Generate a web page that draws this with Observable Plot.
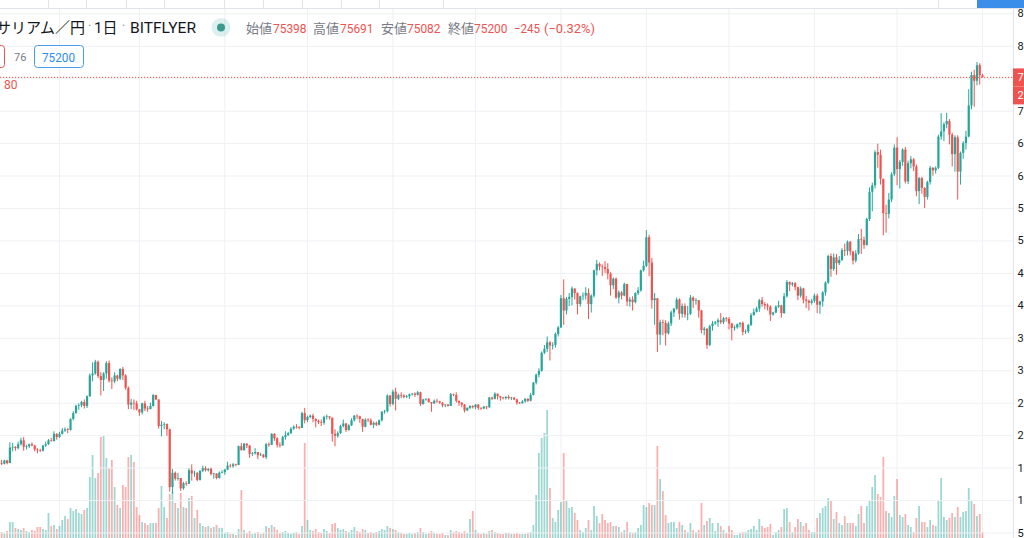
<!DOCTYPE html>
<html>
<head>
<meta charset="utf-8">
<script src="https://cdn.jsdelivr.net/npm/d3@7"></script>
<script src="https://cdn.jsdelivr.net/npm/@observablehq/plot@0.6"></script>
<style>
html, body { margin: 0; padding: 0; background: #ffffff; }
#chart { position: relative; width: 1024px; height: 538px; overflow: hidden; background: #ffffff;
  font-family: Roboto, "Noto Sans CJK JP", sans-serif; }
#chart > svg, #chart > .layer { position: absolute; left: 0; top: 0; }
</style>
</head>
<body>
<div id="chart"></div>
<script>
// ---------- data (ETH/JPY, bitFlyer, daily, 2020-01-11 .. 2021-01-01), prices in thousand JPY ----------
const startDay = "2020-01-11";
const firstOpenK = 15.7;
const closeK = [
  // Jan
  15.6,16.1,15.7,18.1,18.2,18.0,18.6,19.2,18.2,18.3,18.6,18.4,17.8,17.7,17.6,18.4,18.6,19.2,19.1,20.2,19.7,
  // Feb
  20.2,20.7,20.9,20.8,22.5,23.4,24.5,24.6,25.1,24.5,26.0,29.2,29.5,31.3,29.1,28.5,29.5,31.1,28.4,28.3,29.2,28.7,30.2,29.2,27.3,24.7,25.0,24.9,24.0,
  // Mar
  23.5,24.9,24.1,24.0,24.5,26.2,25.5,21.4,21.6,21.7,20.9,12.0,14.2,13.3,13.4,11.8,12.6,12.5,14.6,14.1,14.2,13.1,14.5,14.9,14.6,14.8,14.0,14.1,13.4,14.2,14.3,
  // Apr
  14.7,15.3,15.2,15.5,15.4,18.3,17.7,18.7,18.4,17.1,17.2,17.4,16.9,17.0,16.6,18.6,18.5,20.2,19.5,18.5,18.4,19.7,20.0,20.3,21.0,21.3,21.2,21.1,23.4,22.3,
  // May
  22.8,23.0,22.5,22.2,22.0,21.9,22.8,22.9,22.7,20.2,19.9,20.3,21.4,21.8,20.8,21.5,22.3,23.0,22.9,22.5,21.3,22.4,22.3,21.6,21.9,21.6,22.3,23.6,23.7,26.1,24.8,
  // Jun
  26.7,25.6,26.2,26.1,25.9,26.0,26.3,26.4,26.2,26.6,24.8,25.5,25.6,25.1,24.9,25.3,25.2,25.0,24.6,24.7,24.5,26.3,26.2,25.3,25.0,24.7,23.8,24.2,24.5,24.3,
  // Jul
  24.7,24.2,24.1,24.4,24.3,25.8,25.6,26.4,26.0,25.8,25.7,25.9,25.7,25.8,25.5,25.0,24.9,25.2,25.6,25.3,26.2,28.1,29.3,29.9,32.7,33.3,34.3,33.8,33.9,35.6,36.6,
  // Aug
  41.1,39.2,41.0,41.3,42.6,41.9,40.2,41.4,41.5,41.9,40.2,41.5,45.4,46.4,46.0,45.9,45.6,44.9,43.1,44.1,41.2,42.0,41.5,43.3,40.6,40.9,40.5,41.9,42.3,45.4,46.1,
  // Sep
  50.5,46.6,40.8,41.1,35.5,37.4,37.3,35.7,37.2,38.9,39.5,40.9,38.7,39.9,38.6,38.7,41.2,40.7,40.8,39.2,36.2,36.4,33.9,36.8,37.2,37.4,37.7,37.4,38.0,37.9,
  // Oct
  37.2,36.5,36.6,37.1,37.3,35.9,36.0,37.0,38.5,39.0,39.5,40.8,40.2,40.0,39.8,38.6,38.9,39.8,40.0,38.8,41.4,43.6,43.2,43.4,42.8,41.5,42.6,40.9,40.7,40.4,40.7,
  // Nov
  41.5,40.1,40.6,42.0,43.5,47.6,45.6,47.4,46.5,47.0,48.5,48.4,49.8,48.3,46.9,48.0,50.2,50.1,49.3,53.3,57.5,58.5,63.6,63.2,59.5,54.2,54.1,56.3,60.2,64.3,
  // Dec
  61.0,62.1,64.0,59.1,61.9,62.5,61.4,57.6,59.6,58.1,56.7,59.0,61.2,60.8,61.2,66.0,66.8,67.9,68.4,66.3,63.3,65.9,60.6,63.5,65.0,66.0,70.8,75.5,74.6,77.0,75.445,
  // 2021 Jan 1
  75.2
];
const highK = [
  16.2,16.2,16.2,18.9,18.8,18.3,19.0,19.6,19.7,18.5,18.7,18.9,18.5,18.0,17.9,18.5,19.0,19.4,19.6,20.6,20.3,
  20.5,21.1,21.2,21.1,22.6,23.7,24.7,24.9,25.3,25.5,26.1,29.5,31.2,31.6,31.5,29.7,29.7,31.4,31.5,28.9,29.7,29.3,30.3,30.5,29.4,27.5,25.6,25.5,25.3,
  24.0,25.0,25.3,24.5,25.0,26.3,26.2,25.5,22.2,22.0,21.8,21.0,14.8,14.4,14.2,13.4,12.8,12.9,14.9,15.5,14.5,14.3,14.6,15.3,15.2,14.9,15.0,14.2,14.1,14.4,14.6,
  14.8,15.9,15.6,15.7,15.6,18.4,18.8,18.8,18.7,18.5,17.4,18.0,17.4,17.3,17.1,18.8,18.9,20.3,20.3,19.7,18.9,19.9,20.6,20.5,21.2,21.5,21.7,21.4,23.6,24.2,
  23.0,23.2,23.3,22.6,22.4,22.4,23.0,23.2,22.9,22.7,20.9,20.6,21.6,22.4,21.9,21.7,22.6,23.1,23.2,23.0,22.5,22.6,22.6,22.6,22.1,22.1,22.4,23.7,23.9,26.3,26.2,
  27.0,27.3,26.4,26.6,26.3,26.2,26.4,26.5,26.6,26.8,26.7,25.6,25.7,25.7,25.1,25.5,25.6,25.3,25.1,24.8,24.8,26.5,26.4,26.6,25.3,25.1,24.8,24.3,24.6,24.6,
  24.8,24.8,24.3,24.5,24.5,25.9,25.9,26.6,26.4,26.0,25.9,26.0,26.2,25.9,25.8,25.6,25.1,25.4,25.7,25.7,26.5,28.2,29.5,30.3,32.9,33.9,35.2,34.5,34.3,35.8,36.8,
  41.6,44.0,41.3,41.9,42.9,42.6,42.0,41.5,42.0,42.8,42.6,41.7,45.5,47.0,46.6,46.3,46.8,46.5,45.1,44.3,44.3,42.3,42.2,43.5,43.3,41.3,41.4,42.0,42.8,45.5,46.9,
  51.6,50.9,47.3,41.9,41.0,37.8,37.8,37.7,37.5,39.2,39.6,41.2,41.1,40.3,40.3,39.9,41.6,41.4,41.1,40.8,39.3,36.7,36.5,37.0,37.6,37.6,38.0,38.8,38.2,38.2,
  38.2,37.3,36.9,37.2,37.4,37.5,36.3,37.1,38.8,39.5,39.8,41.0,41.3,40.5,40.3,40.0,39.0,40.0,40.7,40.1,41.9,43.9,43.7,43.6,43.6,42.9,42.9,42.7,41.4,40.9,41.0,
  41.8,41.8,40.7,42.2,43.7,47.8,48.0,48.0,47.9,47.6,48.8,49.5,50.0,49.9,48.4,48.5,51.0,51.8,50.6,53.5,58.2,58.9,63.9,64.9,64.0,59.5,55.5,57.3,60.5,64.8,
  65.9,62.4,64.2,64.4,62.3,63.0,62.7,61.7,59.8,59.8,58.2,59.2,61.5,61.3,61.4,66.3,69.6,68.2,69.7,68.7,66.6,66.2,66.2,63.7,65.3,66.9,73.3,76.0,76.3,77.5,77.3,
  75.691
];
const lowK = [
  15.4,15.5,15.5,15.7,17.5,17.6,17.8,18.4,17.6,17.8,18.0,18.3,17.5,17.2,17.4,17.5,18.2,18.5,19.0,19.0,19.3,
  19.6,20.1,20.5,20.3,20.7,22.3,23.3,23.9,24.3,24.1,24.2,25.9,28.3,29.3,28.8,26.1,26.8,28.7,28.1,27.1,28.0,28.3,28.5,28.5,27.0,24.0,24.0,23.9,23.8,
  23.0,23.2,23.7,23.6,24.0,24.4,25.4,21.0,19.8,20.9,19.9,11.3,11.0,13.0,13.0,11.4,11.6,12.2,12.5,13.0,13.6,12.9,13.0,14.3,14.4,14.4,13.8,13.3,13.2,13.3,14.1,
  13.9,14.6,15.0,15.0,15.2,15.4,17.6,17.6,18.0,16.5,16.8,17.0,16.3,16.8,16.5,16.3,18.2,18.5,19.1,18.1,18.1,18.4,19.3,19.9,20.2,20.8,21.0,20.9,21.1,21.8,
  22.0,22.6,22.0,21.2,21.7,21.4,21.6,22.4,22.4,19.0,18.3,19.6,20.2,21.2,20.5,20.7,21.4,22.1,22.5,21.9,20.5,21.2,22.0,21.5,21.1,21.4,21.5,22.1,23.3,23.5,24.4,
  24.6,23.8,25.4,25.7,25.7,25.7,25.6,26.1,25.9,26.1,24.5,24.7,25.3,25.0,23.6,24.8,25.0,24.8,24.3,24.3,24.4,24.5,26.0,25.0,24.5,24.3,23.5,23.7,24.0,24.1,
  24.0,23.9,23.9,24.0,24.0,24.2,25.4,25.5,25.5,25.3,25.5,25.5,25.5,25.4,25.4,24.7,24.8,24.9,25.0,25.1,25.2,26.1,27.8,28.9,29.8,32.5,32.8,31.5,33.2,33.5,35.2,
  36.5,37.0,38.6,39.9,40.0,40.9,38.6,39.8,40.8,40.9,37.9,38.9,41.2,44.6,45.4,44.5,45.0,44.0,41.5,42.5,41.0,40.3,40.9,41.4,39.9,39.8,39.2,40.3,41.6,42.1,45.2,
  45.9,44.5,39.5,37.0,32.8,33.9,35.4,33.8,35.5,36.8,38.2,39.3,37.8,38.1,38.1,37.7,38.5,39.6,40.1,38.1,35.7,35.4,33.3,33.7,36.1,37.0,36.7,37.1,37.1,37.5,
  36.3,34.6,36.1,36.4,36.6,35.4,35.6,35.7,36.8,38.4,38.9,39.0,39.8,39.4,39.2,37.6,38.4,38.8,39.6,38.1,38.7,41.2,42.2,42.9,42.3,40.8,41.2,40.3,39.6,39.2,40.1,
  40.4,38.8,38.7,39.8,41.5,43.3,44.4,45.3,44.7,46.2,46.8,47.6,47.7,47.7,46.3,46.6,47.8,47.9,48.7,49.2,53.0,54.5,58.0,61.2,58.6,50.8,51.2,53.4,55.9,59.9,
  58.5,58.0,61.5,58.8,58.7,61.1,60.7,56.8,55.6,57.2,55.0,56.3,58.6,60.0,60.3,61.0,65.5,65.3,67.3,64.8,61.4,60.6,56.3,58.6,62.6,64.0,65.9,70.2,70.6,73.9,74.0,
  75.082
];
// relative volume (arbitrary units)
const volume = [
  6,5,7,16,16,10,9,8,10,7,6,8,7,11,11,9,8,25,12,13,9,
  12,18,22,19,30,27,29,25,24,28,30,61,83,60,65,101,102,80,70,78,51,33,30,53,51,81,83,76,31,
  23,16,15,13,15,15,15,30,52,31,20,44,46,35,30,45,31,30,40,42,20,28,15,12,11,12,10,11,13,10,10,
  5,6,4,4,3,9,48,8,5,7,4,5,6,4,5,12,10,13,11,8,5,6,7,5,4,5,6,4,12,95,
  18,8,7,9,6,5,9,7,5,14,15,10,8,9,7,6,8,11,7,6,9,8,5,6,5,6,7,9,8,12,10,
  9,8,6,5,4,4,5,4,5,6,10,6,4,5,7,5,4,4,5,3,3,8,6,7,6,5,7,5,19,27,
  8,5,4,5,4,7,8,6,5,4,4,5,5,4,4,5,4,4,4,5,6,13,43,85,100,105,128,50,20,16,28,
  36,85,38,30,31,25,18,8,6,10,18,8,32,22,15,24,18,15,16,12,12,11,6,8,16,6,5,6,10,13,33,
  31,35,33,33,92,59,47,23,15,16,16,10,16,13,8,6,15,8,6,8,35,13,17,20,15,7,15,12,8,5,
  12,8,3,3,5,6,6,8,9,12,8,19,12,10,11,14,3,6,8,11,29,30,16,6,11,19,16,12,15,8,6,
  6,20,25,30,32,40,38,19,26,15,13,22,15,15,15,12,24,32,15,32,37,51,63,44,41,81,27,25,21,42,
  59,23,21,24,13,11,6,20,32,16,16,11,18,13,12,38,60,21,18,20,25,21,31,21,26,27,50,37,34,22,24,
  6
];
const priceTicks = [5000,10000,15000,20000,25000,30000,35000,40000,45000,50000,55000,60000,65000,70000,75000,80000,85000];
const legendLabels = ["始値", "高値", "安値", "終値"];
const legendValues = [75398, 75691, 75082, 75200];
const legendChange = -245;
const legendPct = -0.32;
const titleText = "イーサリアム／円";
const intervalText = "1日";
const exchangeText = "BITFLYER";
const spreadText = "76";
const countdownHead = "2";
const leftCutLabel = "80";

// ---------- build rows ----------
const DAY = 864e5;
const t0 = Date.parse(startDay + "T00:00:00Z");
const n = Math.min(closeK.length, highK.length, lowK.length, volume.length);
const rows = [];
for (let i = 0; i < n; i++) {
  const open = Math.round((i === 0 ? firstOpenK : closeK[i - 1]) * 1000);
  const close = Math.round(closeK[i] * 1000);
  const high = Math.max(Math.round(highK[i] * 1000), open, close);
  const low = Math.min(Math.round(lowK[i] * 1000), open, close);
  rows.push({date: new Date(t0 + i * DAY), open, close, high, low, volume: volume[i], up: close >= open});
}
const last = rows[rows.length - 1];

const UP = "#26a69a", DOWN = "#ef5350";
const VOL_UP = "rgba(38,166,154,0.45)", VOL_DOWN = "rgba(239,83,80,0.45)";
const GRID = "#eef0f3";

const xOpts = {type: "utc", domain: [new Date(Date.UTC(2020, 1, 1)), new Date(Date.UTC(2021, 0, 1))], range: [59, 982]};
const yOpts = {type: "linear", domain: [5000, 75000], range: [532.5, 78.2]};
const xs = Plot.scale({x: xOpts});
const ys = Plot.scale({y: yOpts});
const paneX1 = xs.invert(1013), paneX2 = xs.invert(1030);
const yTop = ys.invert(-5), yBottom = ys.invert(545);
const monthLines = d3.utcMonth.range(new Date(Date.UTC(2020, 1, 1)), new Date(Date.UTC(2021, 0, 2)));

const chart = document.getElementById("chart");

// volume layer
const volPlot = Plot.plot({
  width: 1024, height: 538, margin: 0,
  x: {...xOpts, axis: null},
  y: {domain: [0, 100], range: [538, 438], axis: null},
  color: {type: "identity"},
  style: {background: "transparent"},
  marks: [
    Plot.ruleX(monthLines, {stroke: GRID, strokeWidth: 1}),
    Plot.ruleX(rows, {x: "date", y1: 0, y2: "volume", stroke: d => d.up ? VOL_UP : VOL_DOWN, strokeWidth: 1.8})
  ]
});
chart.appendChild(volPlot);

// price layer
const pricePlot = Plot.plot({
  width: 1024, height: 538, margin: 0,
  x: {...xOpts, axis: null},
  y: {...yOpts, axis: null},
  color: {type: "identity"},
  style: {background: "transparent", fontFamily: "Roboto, 'Noto Sans', sans-serif"},
  marks: [
    Plot.ruleY(priceTicks, {stroke: GRID, strokeWidth: 1}),
    Plot.ruleX(rows, {x: "date", y1: "low", y2: "high", stroke: d => d.up ? UP : DOWN, strokeWidth: 1}),
    Plot.ruleX(rows, {x: "date", y1: "open", y2: "close", stroke: d => d.up ? UP : DOWN, strokeWidth: 2.2}),
    Plot.ruleY([last.close], {stroke: "#f26b67", strokeWidth: 1.2, strokeDasharray: "1.2,1.8"}),
    Plot.rect([0], {x1: () => paneX1, x2: () => paneX2, y1: () => yBottom, y2: () => yTop, fill: "white"}),
    Plot.ruleX([paneX1], {stroke: "#e0e3eb", strokeWidth: 1}),
    Plot.text(priceTicks, {y: d => d, text: d => String(d), frameAnchor: "right", dx: -7, textAnchor: "start", fill: "#131722", fontSize: 11}),
    Plot.ruleY([last.close], {x1: () => paneX1, x2: () => paneX2, stroke: DOWN, strokeWidth: 18}),
    Plot.text([last.close], {y: d => d, text: d => String(d), frameAnchor: "right", dx: -7, textAnchor: "start", fill: "white", fontSize: 11}),
    Plot.ruleY([last.close], {x1: () => paneX1, x2: () => paneX2, dy: 18, stroke: DOWN, strokeWidth: 18}),
    Plot.text([last.close], {y: d => d, text: () => countdownHead, frameAnchor: "right", dx: -7, dy: 18, textAnchor: "start", fill: "white", fontSize: 11})
  ]
});
chart.appendChild(pricePlot);

// header overlay (toolbar strip, legend)
const fmtMinus = v => (v < 0 ? "\u2212" : "+") + Math.abs(v);
const toolbarSeps = [48, 86, 126, 164, 224, 263, 302, 341, 379, 443, 938];
const labelX = [246, 313, 381, 448];
const valueX = [273, 340, 407, 474];
const CJK = "'Noto Sans CJK JP', sans-serif";
let svg = `<svg class="layer" width="1024" height="538" xmlns="http://www.w3.org/2000/svg" style="font-family: Roboto, 'Noto Sans CJK JP', sans-serif;">`;
svg += `<rect x="0" y="0" width="1024" height="8.5" fill="#ffffff"/>`;
svg += `<line x1="0" x2="1024" y1="8.5" y2="8.5" stroke="#e0e3eb"/>`;
toolbarSeps.forEach(x => { svg += `<line x1="${x + 0.5}" x2="${x + 0.5}" y1="0" y2="8" stroke="#e0e3eb"/>`; });
svg += `<rect x="977" y="0" width="47" height="8" fill="#3b8eea"/>`;
svg += `<text x="85" y="33" text-anchor="end" font-size="15" fill="#131722" font-family="${CJK}">${titleText}</text>`;
svg += `<text x="89.5" y="31" text-anchor="middle" font-size="14" fill="#9598a1">·</text>`;
svg += `<text x="94" y="33" font-size="15" fill="#131722">${intervalText}</text>`;
svg += `<text x="123.5" y="31" text-anchor="middle" font-size="14" fill="#9598a1">·</text>`;
svg += `<text x="130" y="33" font-size="15" fill="#131722" textLength="66" lengthAdjust="spacingAndGlyphs">${exchangeText}</text>`;
svg += `<circle cx="221" cy="27.5" r="9.5" fill="rgba(38,166,154,0.16)"/>`;
svg += `<circle cx="221" cy="27.5" r="4" fill="#3b9a8c"/>`;
legendLabels.forEach((lab, i) => {
  svg += `<text x="${labelX[i]}" y="32.5" font-size="13" fill="#787b86" font-family="${CJK}" textLength="26" lengthAdjust="spacingAndGlyphs">${lab}</text>`;
  svg += `<text x="${valueX[i]}" y="32.5" font-size="13" fill="${DOWN}" textLength="33.5" lengthAdjust="spacingAndGlyphs">${legendValues[i]}</text>`;
});
svg += `<text x="514" y="32.5" font-size="13" fill="${DOWN}" textLength="26" lengthAdjust="spacingAndGlyphs">${fmtMinus(legendChange)}</text>`;
svg += `<text x="544" y="32.5" font-size="13" fill="${DOWN}" textLength="51" lengthAdjust="spacingAndGlyphs">(${legendPct < 0 ? "\u2212" : "+"}${Math.abs(legendPct).toFixed(2)}%)</text>`;
svg += `<rect x="-40" y="45.5" width="44.5" height="22" rx="3" fill="#ffffff" stroke="${DOWN}"/>`;
svg += `<text x="14" y="61" font-size="11" fill="#787b86">${spreadText}</text>`;
svg += `<rect x="34.5" y="45.5" width="49" height="22" rx="3" fill="#ffffff" stroke="#4a9cf0"/>`;
svg += `<text x="42" y="61.5" font-size="13" fill="#2a8df0" textLength="33" lengthAdjust="spacingAndGlyphs">${last.close}</text>`;
svg += `<text x="4" y="89" font-size="12" fill="${DOWN}">${leftCutLabel}</text>`;
svg += `</svg>`;
chart.insertAdjacentHTML("beforeend", svg);
</script>
</body>
</html>
